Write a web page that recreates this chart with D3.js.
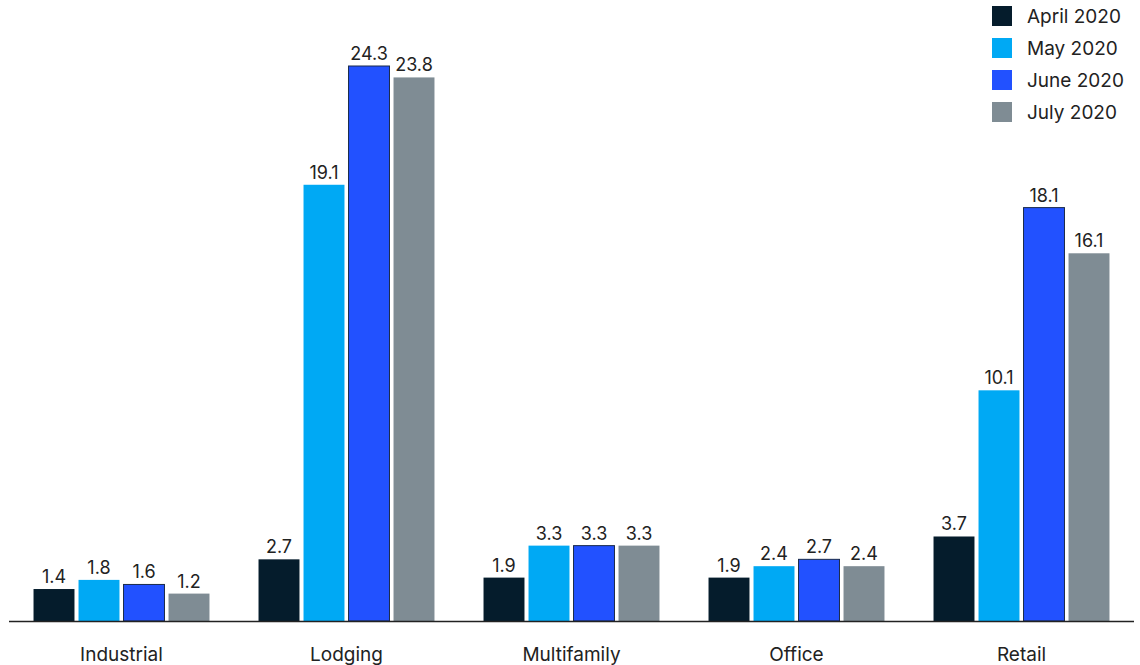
<!DOCTYPE html>
<html>
<head>
<meta charset="utf-8">
<script src="https://cdn.jsdelivr.net/npm/d3@7"></script>
<style>
  body { margin: 0; background: #fff; }
  text { font-family: Inter, "Noto Sans", sans-serif; }
</style>
</head>
<body>
<div id="chart"></div>
<script>
// Data
const categories = ['Industrial', 'Lodging', 'Multifamily', 'Office', 'Retail'];
const seriesNames = ['April 2020', 'May 2020', 'June 2020', 'July 2020'];
const april = [1.4, 2.7, 1.9, 1.9, 3.7];
const may = [1.8, 19.1, 3.3, 2.4, 10.1];
const june = [1.6, 24.3, 3.3, 2.7, 18.1];
const july = [1.2, 23.8, 3.3, 2.4, 16.1];
const seriesColors = ['#051c2c', '#00a9f4', '#2251ff', '#7f8c94'];

const seriesValues = [april, may, june, july];

function drawChart() {
    const width = 1140;
    const height = 665;
    const baseline = 621;

    const svg = d3.select('#chart').append('svg')
        .attr('width', width)
        .attr('height', height);

    const x0 = d3.scaleBand()
        .domain(categories)
        .range([9, 1134])
        .paddingInner(0.218)
        .paddingOuter(0.109);

    const x1 = d3.scaleBand()
        .domain(seriesNames)
        .range([0, x0.bandwidth()])
        .paddingInner(0.09);

    const y = d3.scaleLinear()
        .domain([0, 24.3])
        .range([baseline, 66]);

    const rows = categories.map((c, i) => ({
        category: c,
        values: seriesNames.map((s, j) => ({ series: s, idx: j, value: seriesValues[j][i] }))
    }));

    const groups = svg.selectAll('.group')
        .data(rows)
        .enter()
        .append('g')
        .attr('class', 'group')
        .attr('transform', d => `translate(${x0(d.category)},0)`);

    groups.selectAll('rect')
        .data(d => d.values)
        .enter()
        .append('rect')
        .attr('x', d => x1(d.series))
        .attr('y', d => y(d.value))
        .attr('width', x1.bandwidth())
        .attr('height', d => baseline - y(d.value))
        .attr('fill', d => seriesColors[d.idx])
        .attr('stroke', d => d.idx === 2 ? '#1a2a4a' : 'none')
        .attr('stroke-width', 1);

    // value labels
    groups.selectAll('.val')
        .data(d => d.values)
        .enter()
        .append('text')
        .attr('class', 'val')
        .attr('x', d => x1(d.series) + x1.bandwidth() / 2)
        .attr('y', d => y(d.value) - 6)
        .attr('text-anchor', 'middle')
        .attr('font-size', '18px')
        .attr('fill', '#222')
        .text(d => d.value.toFixed(1));

    // baseline axis
    svg.append('line')
        .attr('x1', 9)
        .attr('x2', 1134)
        .attr('y1', baseline + 0.5)
        .attr('y2', baseline + 0.5)
        .attr('stroke', '#222')
        .attr('stroke-width', 1.5);

    // category labels
    svg.selectAll('.cat')
        .data(categories)
        .enter()
        .append('text')
        .attr('class', 'cat')
        .attr('x', d => x0(d) + x0.bandwidth() / 2)
        .attr('y', 661)
        .attr('text-anchor', 'middle')
        .attr('font-size', '19px')
        .attr('fill', '#222')
        .text(d => d);

    // legend
    const legend = svg.append('g')
        .attr('transform', 'translate(992,6)');

    const item = legend.selectAll('.legend-item')
        .data(seriesNames)
        .enter()
        .append('g')
        .attr('class', 'legend-item')
        .attr('transform', (d, i) => `translate(0,${i * 32})`);

    item.append('rect')
        .attr('width', 20)
        .attr('height', 20)
        .attr('fill', (d, i) => seriesColors[i]);

    item.append('text')
        .attr('x', 35)
        .attr('y', 17)
        .attr('font-size', '19px')
        .attr('fill', '#222')
        .text(d => d);
}

drawChart();
</script>
</body>
</html>
